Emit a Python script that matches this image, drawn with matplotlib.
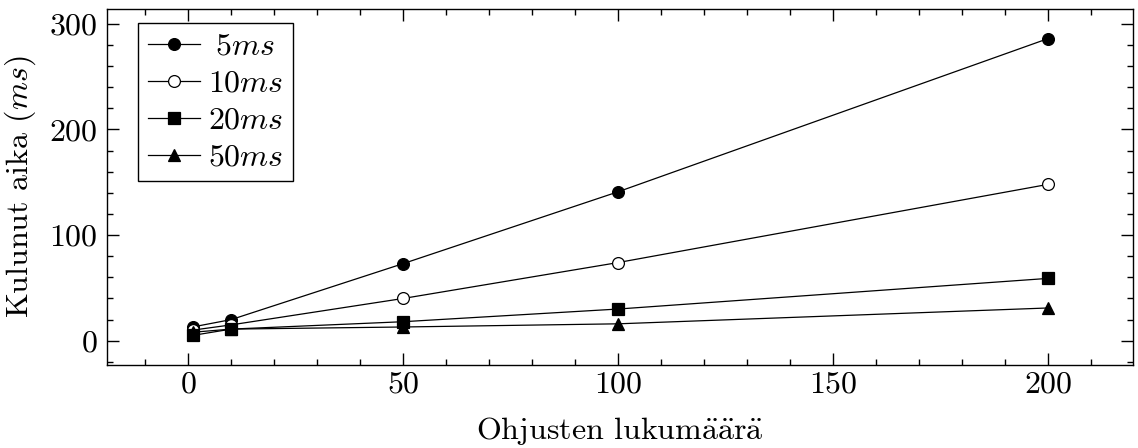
import matplotlib
matplotlib.use("Agg")
import matplotlib.pyplot as plt

plt.rcParams["font.family"] = ["cmr10", "DejaVu Serif"]
plt.rcParams["mathtext.fontset"] = "cm"
plt.rcParams["axes.formatter.use_mathtext"] = True
plt.rcParams["axes.unicode_minus"] = False

# Number of missiles on the x axis
missiles = [1, 10, 50, 100, 200]

# Elapsed time (ms) for each update interval
t_5ms = [13, 20, 73, 141, 286]
t_10ms = [10, 15, 40, 74, 148]
t_20ms = [5, 11, 18, 30, 59]
t_50ms = [8, 11, 13, 16, 31]

series = [
    (t_5ms, r"$\;5ms$", "o", "black"),
    (t_10ms, r"$10ms$", "o", "white"),
    (t_20ms, r"$20ms$", "s", "black"),
    (t_50ms, r"$50ms$", "^", "black"),
]

FS = 23

fig = plt.figure(figsize=(11.38, 4.48), dpi=100)
ax = fig.add_axes([0.094, 0.185, 0.902, 0.795])

for values, label, marker, face in series:
    ax.plot(missiles, values, color="black", linewidth=0.9,
            marker=marker, markersize=8.5, markerfacecolor=face,
            markeredgecolor="black", markeredgewidth=0.9, label=label)

ax.margins(0.1)
ax.set_xticks([0, 50, 100, 150, 200])
ax.set_yticks([0, 100, 200, 300])
ax.xaxis.set_minor_locator(matplotlib.ticker.MultipleLocator(10))
ax.yaxis.set_minor_locator(matplotlib.ticker.MultipleLocator(20))
ax.tick_params(which="both", direction="in", top=True, right=True,
               labelsize=FS, width=1.0)
ax.tick_params(which="major", length=8.5, pad=7)
ax.tick_params(axis="x", which="major", pad=4)
ax.tick_params(which="minor", length=4.5)
for sp in ax.spines.values():
    sp.set_linewidth(1.0)

ax.set_xlabel(r"Ohjusten lukum$\ddot{\mathrm{a}}\ddot{\mathrm{a}}$r$\ddot{\mathrm{a}}$",
              fontsize=FS, labelpad=12)
ax.set_ylabel(r"Kulunut aika ($ms$)", fontsize=FS, labelpad=8)

leg = ax.legend(loc="upper left", bbox_to_anchor=(31 / 1026, 1 - 14 / 356),
                borderaxespad=0, fontsize=FS, frameon=True, fancybox=False,
                edgecolor="black", framealpha=1, handlelength=1.65,
                handletextpad=0.25, labelspacing=0.27, borderpad=0.3)
leg.get_frame().set_linewidth(1.0)

fig.savefig("out.png", dpi=100)
